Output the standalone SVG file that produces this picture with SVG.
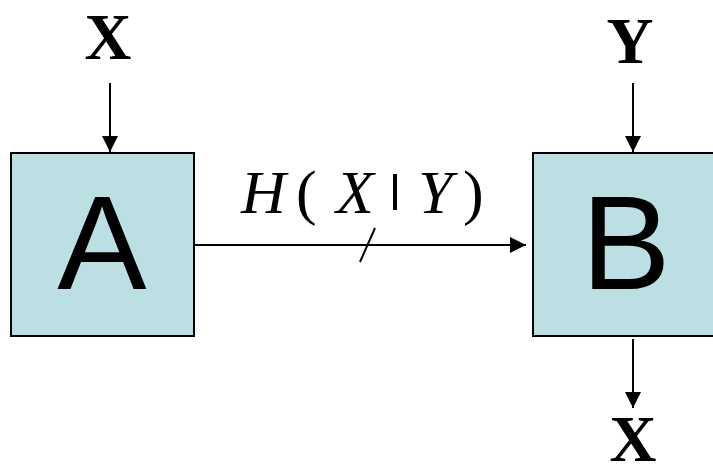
<svg xmlns="http://www.w3.org/2000/svg" width="713" height="468" viewBox="0 0 713 468">
<style>
.box{fill:#bbdfe2;stroke:#000;stroke-width:2}
.big{font-family:"Liberation Sans",Arial,sans-serif;font-size:134px;text-anchor:middle;fill:#000}
.lbl{font-family:"Liberation Serif","Times New Roman",serif;font-weight:bold;font-size:65px;text-anchor:middle;fill:#000}
.it{font-family:"Liberation Serif","Times New Roman",serif;font-style:italic;font-size:62px;fill:#000}
.rm{font-family:"Liberation Serif","Times New Roman",serif;font-size:62px;fill:#000}
.ln{stroke:#000;stroke-width:2;fill:none}
</style>
<defs>
<marker id="ah" viewBox="0 0 10 10" refX="10" refY="5" markerWidth="16" markerHeight="16" markerUnits="userSpaceOnUse" orient="auto">
<path d="M0,0 L10,5 L0,10 z" fill="#000"/>
</marker>
</defs>
<g id="nodeA">
<rect class="box" x="11" y="153" width="183" height="183"/>
<text class="big" x="102" y="289">A</text>
</g>
<g id="nodeB">
<rect class="box" x="533" y="153" width="183" height="183"/>
<text class="big" x="626" y="289">B</text>
</g>
<g id="labels">
<text class="lbl" x="108" y="59">X</text>
<text class="lbl" x="630" y="63">Y</text>
<text class="lbl" x="633" y="461">X</text>
</g>
<g id="connectors">
<line class="ln" x1="110" y1="83" x2="110" y2="152" marker-end="url(#ah)"/>
<line class="ln" x1="633" y1="83" x2="633" y2="152" marker-end="url(#ah)"/>
<line class="ln" x1="633" y1="339" x2="633" y2="408" marker-end="url(#ah)"/>
<line class="ln" x1="194" y1="245" x2="526" y2="245" marker-end="url(#ah)"/>
<line class="ln" x1="375" y1="228" x2="360" y2="262"/>
<g id="edgeLabel">
<text class="it" x="241" y="213">H</text>
<text class="rm" x="296" y="213">(</text>
<text class="it" x="336" y="213">X</text>
<rect x="393" y="174" width="4" height="36" fill="#000"/>
<text class="it" x="418" y="213">Y</text>
<text class="rm" x="463" y="213">)</text>
</g>
</g>
</svg>
